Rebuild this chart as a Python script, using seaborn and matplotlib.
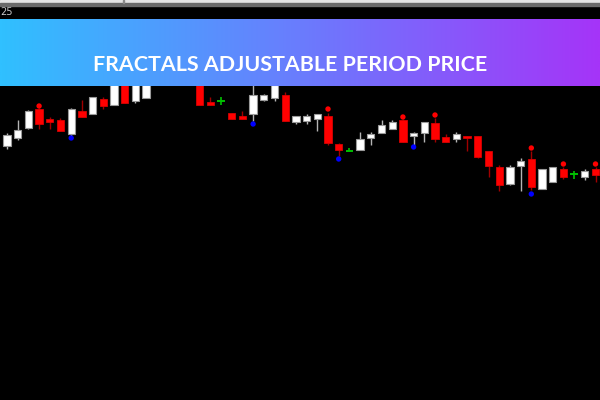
import numpy as np
import pandas as pd
import matplotlib
matplotlib.use("Agg")
import matplotlib.pyplot as plt
import seaborn as sns
from matplotlib.colors import LinearSegmentedColormap
from matplotlib.patches import Rectangle

# OHLC prices (candles 14-18 sit behind the banner)
opens = [1.2354, 1.2362, 1.2372, 1.2391, 1.2381, 1.2380, 1.2366, 1.2389, 1.2386, 1.2401,
         1.2395, 1.2420, 1.2399, 1.2402, 1.2420, 1.2436, 1.2422, 1.2442, 1.2428, 1.2398,
         1.2399, 1.2387, 1.2384, 1.2386, 1.2400, 1.2402, 1.2405, 1.2378, 1.2379, 1.2381,
         1.2384, 1.2356, 1.2349, 1.2350, 1.2362, 1.2367, 1.2371, 1.2380, 1.2364, 1.2367,
         1.2377, 1.2363, 1.2361, 1.2364, 1.2364, 1.2349, 1.2333, 1.2316, 1.2334, 1.2341,
         1.2311, 1.2318, 1.2331, 1.2326, 1.2323, 1.2331]
highs = [1.2367, 1.2380, 1.2390, 1.2392, 1.2383, 1.2382, 1.2392, 1.2400, 1.2403, 1.2403,
         1.2422, 1.2422, 1.2424, 1.2426, 1.2440, 1.2440, 1.2445, 1.2445, 1.2430, 1.2403,
         1.2403, 1.2387, 1.2389, 1.2416, 1.2406, 1.2416, 1.2408, 1.2384, 1.2386, 1.2386,
         1.2387, 1.2357, 1.2352, 1.2368, 1.2368, 1.2380, 1.2380, 1.2381, 1.2368, 1.2378,
         1.2382, 1.2366, 1.2368, 1.2364, 1.2364, 1.2349, 1.2335, 1.2335, 1.2342, 1.2349,
         1.2331, 1.2333, 1.2333, 1.2329, 1.2331, 1.2333]
lows = [1.2351, 1.2360, 1.2371, 1.2371, 1.2371, 1.2369, 1.2364, 1.2383, 1.2386, 1.2391,
        1.2395, 1.2397, 1.2397, 1.2402, 1.2418, 1.2420, 1.2420, 1.2425, 1.2395, 1.2395,
        1.2395, 1.2381, 1.2381, 1.2379, 1.2399, 1.2399, 1.2379, 1.2376, 1.2376, 1.2369,
        1.2355, 1.2344, 1.2349, 1.2350, 1.2355, 1.2367, 1.2371, 1.2358, 1.2355, 1.2358,
        1.2358, 1.2358, 1.2358, 1.2349, 1.2342, 1.2323, 1.2309, 1.2315, 1.2309, 1.2310,
        1.2311, 1.2318, 1.2321, 1.2321, 1.2320, 1.2318]
closes = [1.2365, 1.2370, 1.2389, 1.2376, 1.2378, 1.2369, 1.2391, 1.2383, 1.2403, 1.2394,
          1.2420, 1.2397, 1.2422, 1.2425, 1.2438, 1.2422, 1.2442, 1.2430, 1.2395, 1.2395,
          1.2399, 1.2381, 1.2381, 1.2405, 1.2405, 1.2415, 1.2379, 1.2384, 1.2384, 1.2386,
          1.2357, 1.2350, 1.2349, 1.2361, 1.2366, 1.2375, 1.2378, 1.2358, 1.2367, 1.2378,
          1.2361, 1.2358, 1.2366, 1.2362, 1.2343, 1.2334, 1.2315, 1.2333, 1.2339, 1.2313,
          1.2331, 1.2333, 1.2323, 1.2326, 1.2329, 1.2325]

fractal_up_bar = [3, 30, 37, 40, 49, 52, 55]
fractal_up_price = [1.2394, 1.2391, 1.2383, 1.2385, 1.2352, 1.2336, 1.2336]
fractal_down_bar = [6, 23, 31, 38, 49]
fractal_down_price = [1.2362, 1.2376, 1.2341, 1.2353, 1.2306]

title = "FRACTALS ADJUSTABLE PERIOD PRICE"
corner_label = "25"

sns.set_style("dark", {"axes.facecolor": "black", "figure.facecolor": "black"})

df = pd.DataFrame({"open": opens, "high": highs, "low": lows, "close": closes})
df["bar"] = np.arange(len(df))
up = df[df.close > df.open]
down = df[df.close < df.open]
doji = df[df.close == df.open]

fig = plt.figure(figsize=(6, 4), dpi=100)
ax = fig.add_axes([0, 0, 1, 1])
ax.set_facecolor("black")

# wicks
ax.vlines(up.bar, up.low, up.high, color="#b4b4b4", lw=1)
ax.vlines(down.bar, down.low, down.high, color="#a00000", lw=1)
ax.vlines(doji.bar, doji.low, doji.high, color="#00c000", lw=1.2)

# bodies
ax.bar(up.bar, up.close - up.open, bottom=up.open, width=0.68,
       color="white", edgecolor="#9a9a9a", linewidth=0.8, zorder=3)
ax.bar(down.bar, down.open - down.close, bottom=down.close, width=0.68,
       color="#ff0000", edgecolor="#d80000", linewidth=0.6, zorder=3)
ax.hlines(doji.close, doji.bar - 0.34, doji.bar + 0.34, color="#00c000", lw=1.4, zorder=3)

# fractal markers
sns.scatterplot(x=fractal_up_bar, y=fractal_up_price, color="#ff0000", s=15,
                edgecolor="none", ax=ax, zorder=4)
sns.scatterplot(x=fractal_down_bar, y=fractal_down_price, color="#0000ff", s=15,
                edgecolor="none", ax=ax, zorder=4)

ax.set_xlim(-0.654, 55.42)
ax.set_ylim(1.2100, 1.2500)
ax.set_xticks([])
ax.set_yticks([])
ax.set_xlabel("")
ax.set_ylabel("")
for s in ax.spines.values():
    s.set_visible(False)

# terminal header strip
fig.add_artist(Rectangle((0, 397 / 400), 1, 3 / 400, transform=fig.transFigure,
                         color="#e4e4e4", zorder=5))
fig.add_artist(Rectangle((0, 394.5 / 400), 1, 2.5 / 400, transform=fig.transFigure,
                         color="#6a6a6a", zorder=5))
fig.add_artist(Rectangle((122.5 / 600, 397 / 400), 1 / 600, 3 / 400, transform=fig.transFigure,
                         color="#8a8a8a", zorder=6))
fig.text(0, 388 / 400, corner_label, color="#c8c8c8", fontsize=7, va="center", ha="left")

# gradient banner
cmap = LinearSegmentedColormap.from_list("banner", ["#30c0ff", "#6a7cfd", "#a534f8"])
bax = fig.add_axes([0, 314 / 400, 1, 67 / 400])
bax.imshow(np.linspace(0, 1, 512).reshape(1, -1), cmap=cmap, aspect="auto",
           extent=[0, 1, 0, 1])
bax.set_xlim(0, 1)
bax.set_ylim(0, 1)
bax.axis("off")
bax.text(0.484, 0.315, title, color="white", fontsize=15.4, fontweight="bold",
         family=["Lato", "DejaVu Sans"], ha="center", va="center")

fig.savefig("out.png", dpi=100, facecolor="black")
